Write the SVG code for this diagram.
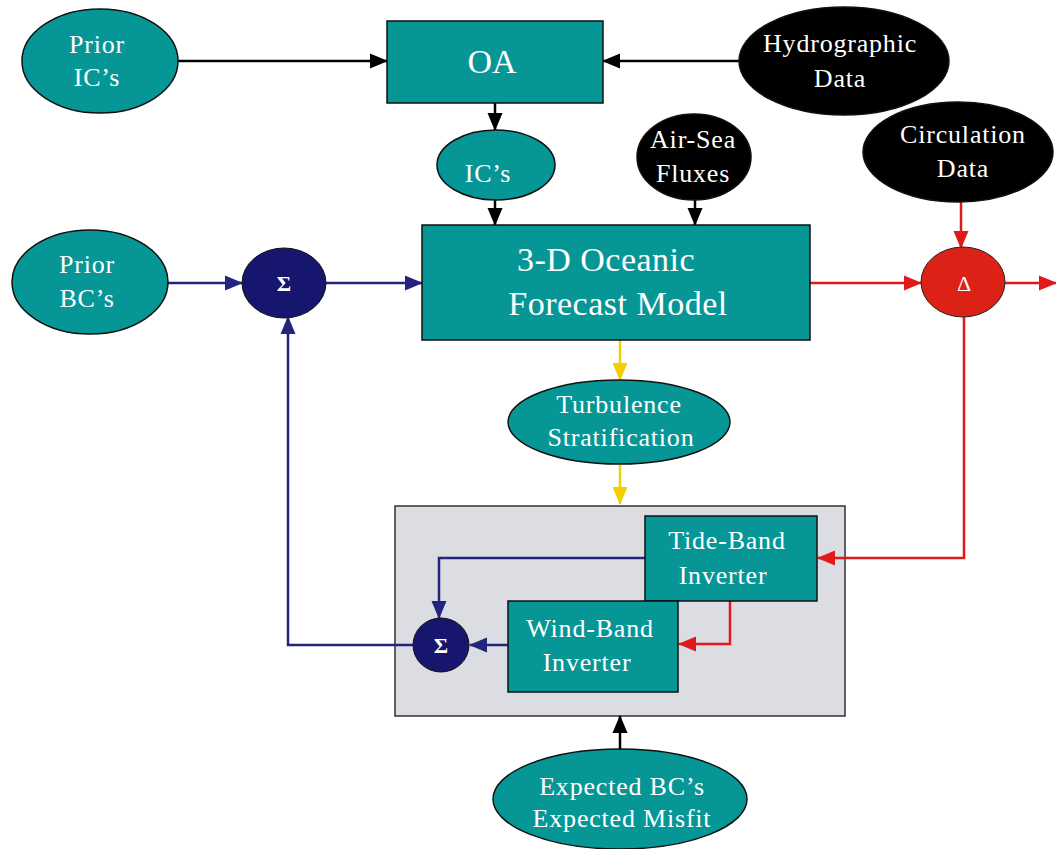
<svg xmlns="http://www.w3.org/2000/svg" width="1056" height="849" viewBox="0 0 1056 849">
<style>
.teal{fill:#079696;stroke:#111;stroke-width:1.5}
.blk{fill:#000;stroke:#111;stroke-width:1.5}
.navy{fill:#16166e;stroke:#111;stroke-width:1}
.t{font-family:"Liberation Serif","Times New Roman",serif;fill:#fff;text-anchor:middle}
.s24{font-size:26px;letter-spacing:0.8px}
.ln{fill:none;stroke-width:2.5}
.k{stroke:#000}
.b{stroke:#24247e}
.r{stroke:#e01a1a}
.y{stroke:#f2d000}
</style>
<defs>
<marker id="ak" markerUnits="userSpaceOnUse" markerWidth="18" markerHeight="18" refX="17" refY="9" orient="auto"><path d="M0,1.5 L18,9 L0,16.5 Z" fill="#000"/></marker>
<marker id="ab" markerUnits="userSpaceOnUse" markerWidth="18" markerHeight="18" refX="17" refY="9" orient="auto"><path d="M0,1.5 L18,9 L0,16.5 Z" fill="#24247e"/></marker>
<marker id="ar" markerUnits="userSpaceOnUse" markerWidth="18" markerHeight="18" refX="17" refY="9" orient="auto"><path d="M0,1.5 L18,9 L0,16.5 Z" fill="#e01a1a"/></marker>
<marker id="ay" markerUnits="userSpaceOnUse" markerWidth="18" markerHeight="18" refX="17" refY="9" orient="auto"><path d="M0,1.5 L18,9 L0,16.5 Z" fill="#f2d000"/></marker>
</defs>

<g id="box-inverters"><rect x="395" y="506" width="450" height="210" fill="#dcdce3" stroke="#333" stroke-width="1.5"/></g>

<g id="connectors">
<path class="ln k" d="M178,61 H387" marker-end="url(#ak)"/>
<path class="ln k" d="M739,61 H603" marker-end="url(#ak)"/>
<path class="ln k" d="M495,103 V130" marker-end="url(#ak)"/>
<path class="ln k" d="M495,200 V225" marker-end="url(#ak)"/>
<path class="ln k" d="M695,200 V225" marker-end="url(#ak)"/>
<path class="ln r" d="M961,202 V248" marker-end="url(#ar)"/>
<path class="ln b" d="M167,283 H242" marker-end="url(#ab)"/>
<path class="ln b" d="M326,283 H422" marker-end="url(#ab)"/>
<path class="ln r" d="M810,283 H921" marker-end="url(#ar)"/>
<path class="ln r" d="M1005,283 H1056" marker-end="url(#ar)"/>
<path class="ln y" d="M620,340 V380" marker-end="url(#ay)"/>
<path class="ln y" d="M620,465 V504" marker-end="url(#ay)"/>
<path class="ln r" d="M964,317 V558 H818" marker-end="url(#ar)"/>
<path class="ln r" d="M730,601 V644 H679" marker-end="url(#ar)"/>
<path class="ln b" d="M645,558 H439 V618" marker-end="url(#ab)"/>
<path class="ln b" d="M508,645 H470" marker-end="url(#ab)"/>
<path class="ln b" d="M413,645 H288 V317" marker-end="url(#ab)"/>
<path class="ln k" d="M620,750 V716" marker-end="url(#ak)"/>
</g>

<g id="prior-ics"><ellipse class="teal" cx="100" cy="61" rx="78" ry="52"/><text class="t s24" x="97" y="53">Prior</text><text class="t s24" x="97" y="86">IC’s</text></g>
<g id="oa"><rect class="teal" x="387" y="21" width="216" height="82"/><text class="t" x="492" y="73" font-size="34">OA</text></g>
<g id="hydrographic-data"><ellipse class="blk" cx="844" cy="61" rx="105" ry="54"/><text class="t s24" x="840" y="52">Hydrographic</text><text class="t s24" x="840" y="87">Data</text></g>
<g id="ics"><ellipse class="teal" cx="496" cy="165" rx="59" ry="35"/><text class="t s24" x="488" y="182">IC’s</text></g>
<g id="air-sea-fluxes"><ellipse class="blk" cx="694" cy="157" rx="57" ry="43"/><text class="t s24" x="693" y="148">Air-Sea</text><text class="t s24" x="693" y="182">Fluxes</text></g>
<g id="circulation-data"><ellipse class="blk" cx="958" cy="152" rx="95" ry="50"/><text class="t s24" x="963" y="143">Circulation</text><text class="t s24" x="963" y="177">Data</text></g>
<g id="prior-bcs"><ellipse class="teal" cx="90" cy="282" rx="78" ry="52"/><text class="t s24" x="87" y="273">Prior</text><text class="t s24" x="87" y="307">BC’s</text></g>
<g id="sum-top"><ellipse class="navy" cx="284" cy="283" rx="42" ry="35"/><text class="t" x="284" y="291" font-size="22" font-weight="bold">Σ</text></g>
<g id="model"><rect class="teal" x="422" y="225" width="388" height="115"/><text class="t" x="606" y="271" font-size="34" letter-spacing="0.5">3-D Oceanic</text><text class="t" x="618" y="315" font-size="34" letter-spacing="0.5">Forecast Model</text></g>
<g id="delta"><ellipse cx="963" cy="282" rx="42" ry="35" fill="#dc2216" stroke="#222" stroke-width="1"/><text class="t" x="964" y="291" font-size="22">Δ</text></g>
<g id="turbulence"><ellipse class="teal" cx="619" cy="422" rx="111" ry="42"/><text class="t s24" x="619" y="413">Turbulence</text><text class="t s24" x="621" y="446">Stratification</text></g>
<g id="tide-band"><rect class="teal" x="645" y="516" width="172" height="85"/><text class="t s24" x="727" y="549">Tide-Band</text><text class="t s24" x="723" y="584">Inverter</text></g>
<g id="wind-band"><rect class="teal" x="508" y="601" width="170" height="91"/><text class="t s24" x="590" y="637">Wind-Band</text><text class="t s24" x="587" y="671">Inverter</text></g>
<g id="sum-bottom"><ellipse class="navy" cx="441" cy="645" rx="28" ry="27"/><text class="t" x="441" y="653" font-size="22" font-weight="bold">Σ</text></g>
<g id="expected"><ellipse class="teal" cx="620" cy="799" rx="127" ry="50"/><text class="t s24" x="622" y="795">Expected BC’s</text><text class="t s24" x="622" y="827">Expected Misfit</text></g>
</svg>
